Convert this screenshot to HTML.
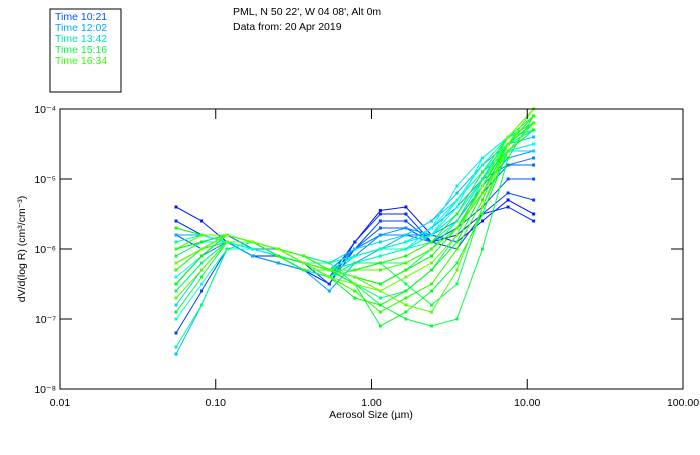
<!DOCTYPE html>
<html><head><meta charset="utf-8"><style>
body{margin:0;background:#fff;width:700px;height:450px;overflow:hidden;font-family:"Liberation Sans","DejaVu Sans",sans-serif}
svg text{font-family:"Liberation Sans","DejaVu Sans",sans-serif}
</style></head><body>
<svg id="chart" width="700" height="450" xmlns="http://www.w3.org/2000/svg">
<rect x="50" y="9" width="71" height="83" fill="#fff" stroke="#000" stroke-width="1"/>
<g font-size="10.5">
<text x="55" y="20" fill="#0055ff">Time 10:21</text>
<text x="55" y="31" fill="#00aaff">Time 12:02</text>
<text x="55" y="42" fill="#00e0c0">Time 13:42</text>
<text x="55" y="53" fill="#00ff40">Time 15:16</text>
<text x="55" y="64" fill="#33ff00">Time 16:34</text>
</g>
<text x="233" y="15" font-size="10.5">PML, N 50 22', W 04 08', Alt 0m</text>
<text x="233" y="30" font-size="10.5">Data from: 20 Apr 2019</text>
<g id="series"></g>
<rect x="60" y="109" width="623" height="280" fill="none" stroke="#000" stroke-width="1"/>
<g id="axes"></g>
<text x="371" y="418" font-size="10.5" text-anchor="middle">Aerosol Size (µm)</text>
<text transform="translate(25,249) rotate(-90)" font-size="10.5" text-anchor="middle">dV/d(log R) (cm³/cm⁻³)</text>
</svg>
<script>
const xTicks=[0.01,0.1,1,10,100];
const xTickLabels=["0.01","0.10","1.00","10.00","100.00"];
const yTicks=[-4,-5,-6,-7,-8];
const yTickLabels=["10⁻⁴","10⁻⁵","10⁻⁶","10⁻⁷","10⁻⁸"];
const sizesLog=[-1.255,-1.091,-0.927,-0.763,-0.599,-0.435,-0.271,-0.107,0.057,0.221,0.385,0.549,0.713,0.877,1.041];
const series=[
[-5.4,-5.6,-5.9,-6.1,-6.1,-6.3,-6.5,-5.9,-5.45,-5.4,-5.8,-5.9,-5.6,-5.3,-5.5],
[-5.6,-5.8,-5.9,-6.1,-6.2,-6.3,-6.4,-5.9,-5.5,-5.5,-5.9,-5.8,-5.5,-5.4,-5.6],
[-7.2,-6.6,-6.0,-6.0,-6.1,-6.2,-6.5,-6.0,-5.6,-5.6,-5.9,-6.0,-5.5,-5.2,-5.3],
[-5.8,-6.0,-5.9,-6.1,-6.2,-6.3,-6.4,-6.0,-5.7,-5.7,-5.9,-5.7,-5.4,-5.0,-5.0],
[-6.2,-6.0,-5.8,-6.0,-6.1,-6.2,-6.3,-6.0,-5.8,-5.8,-5.9,-5.7,-5.2,-4.8,-4.8],
[-6.5,-6.1,-5.9,-6.0,-6.0,-6.2,-6.3,-6.1,-5.8,-5.8,-5.8,-5.5,-5.0,-4.8,-4.7],
[-6.0,-5.9,-5.8,-6.0,-6.1,-6.2,-6.3,-6.0,-5.8,-5.7,-5.8,-5.6,-5.1,-4.7,-4.6],
[-5.8,-5.8,-5.9,-6.1,-6.2,-6.3,-6.6,-6.2,-6.0,-5.9,-5.7,-5.4,-5.0,-4.6,-4.5],
[-7.5,-6.8,-6.0,-6.0,-6.1,-6.2,-6.4,-6.1,-6.0,-5.8,-5.6,-5.2,-4.8,-4.5,-4.4],
[-6.8,-6.3,-5.9,-5.9,-6.0,-6.1,-6.2,-6.0,-5.9,-5.8,-5.6,-5.3,-4.9,-4.6,-4.6],
[-6.0,-5.9,-5.9,-6.0,-6.1,-6.2,-6.3,-6.1,-6.0,-5.9,-5.7,-5.1,-4.7,-4.4,-4.3],
[-6.4,-6.1,-5.8,-5.9,-6.1,-6.2,-6.2,-6.1,-6.0,-6.0,-5.8,-5.5,-5.0,-4.6,-4.5],
[-5.7,-5.8,-5.9,-6.0,-6.1,-6.3,-6.4,-6.2,-6.1,-6.0,-5.7,-5.3,-4.9,-4.5,-4.3],
[-7.0,-6.5,-6.0,-6.0,-6.1,-6.2,-6.3,-6.1,-6.0,-5.9,-5.8,-5.4,-4.7,-4.4,-4.3],
[-6.6,-6.2,-5.9,-6.0,-6.1,-6.3,-6.4,-6.2,-6.1,-6.0,-5.8,-5.3,-4.8,-4.4,-4.2],
[-6.3,-6.0,-5.8,-5.9,-6.0,-6.2,-6.2,-6.1,-6.0,-6.0,-5.9,-5.6,-5.0,-4.5,-4.3],
[-5.9,-5.8,-5.8,-5.9,-6.1,-6.3,-6.4,-6.3,-6.2,-6.2,-6.0,-5.7,-5.1,-4.5,-4.2],
[-7.4,-6.8,-6.0,-5.9,-6.0,-6.1,-6.2,-6.5,-6.7,-6.6,-6.3,-5.8,-5.0,-4.4,-4.1],
[-6.6,-6.2,-5.9,-5.9,-6.0,-6.1,-6.3,-6.4,-6.5,-6.3,-6.0,-5.6,-5.0,-4.4,-4.2],
[-6.1,-5.9,-5.8,-5.9,-6.0,-6.2,-6.3,-6.2,-6.2,-6.5,-6.8,-6.5,-5.4,-4.6,-4.3],
[-6.2,-6.0,-5.8,-5.9,-6.0,-6.2,-6.3,-6.5,-6.8,-7.0,-7.1,-7.0,-6.0,-4.7,-4.1],
[-6.9,-6.4,-5.9,-5.9,-6.0,-6.1,-6.3,-6.5,-7.1,-6.9,-6.6,-6.2,-5.5,-4.6,-4.3],
[-6.0,-5.9,-5.8,-5.9,-6.1,-6.2,-6.4,-6.7,-6.8,-6.6,-6.3,-5.9,-5.2,-4.5,-4.2],
[-6.5,-6.1,-5.8,-5.9,-6.0,-6.2,-6.3,-6.4,-6.5,-6.3,-6.1,-5.7,-5.1,-4.5,-4.1],
[-5.7,-5.8,-5.8,-5.9,-6.1,-6.3,-6.3,-6.3,-6.2,-6.1,-5.9,-5.5,-4.9,-4.4,-4.0],
[-6.3,-6.0,-5.9,-5.9,-6.0,-6.2,-6.4,-6.6,-6.9,-6.7,-6.5,-6.0,-5.3,-4.5,-4.1],
[-6.0,-5.8,-5.8,-5.9,-6.0,-6.1,-6.3,-6.3,-6.3,-6.2,-6.0,-5.7,-5.2,-4.6,-4.2],
[-6.7,-6.3,-5.9,-5.9,-6.0,-6.2,-6.3,-6.4,-6.6,-6.8,-6.9,-6.3,-5.4,-4.5,-4.0],
[-6.2,-6.0,-5.8,-5.9,-6.0,-6.2,-6.4,-6.5,-6.6,-6.4,-6.2,-5.8,-5.1,-4.4,-4.0]
];
const NS="http://www.w3.org/2000/svg";
const X0=60,X1=683,Y0=109,Y1=389;
function xScale(lx){return X0+(lx+2)/4*(X1-X0);}
function yScale(ly){return Y0+(-4-ly)/4*(Y1-Y0);}
function colorFor(i,n){const h=235-(i/(n-1))*140;return "hsl("+h+",100%,50%)";}
const g=document.getElementById('series');
series.forEach((s,i)=>{
  const col=colorFor(i,series.length);
  const pl=document.createElementNS(NS,'polyline');
  
  
  pl.setAttribute('points',s.map((v,j)=>xScale(sizesLog[j]).toFixed(1)+","+yScale(v).toFixed(1)).join(" "));
  pl.setAttribute('fill','none');pl.setAttribute('stroke',col);pl.setAttribute('stroke-width','1');
  g.appendChild(pl);
  s.forEach((v,j)=>{
    const r=document.createElementNS(NS,'rect');
    
    
    r.setAttribute('x',xScale(sizesLog[j])-1.5);r.setAttribute('y',yScale(v)-1.5);
    r.setAttribute('width',3);r.setAttribute('height',3);r.setAttribute('fill',col);
    g.appendChild(r);
  });
});
const ax=document.getElementById('axes');
function line(x1,y1,x2,y2){const l=document.createElementNS(NS,'line');
  
  
  l.setAttribute('x1',x1);l.setAttribute('y1',y1);l.setAttribute('x2',x2);l.setAttribute('y2',y2);l.setAttribute('stroke','#000');ax.appendChild(l);}
xTicks.forEach((t,i)=>{
  const x=xScale(Math.log10(t));
  line(x,Y1,x,Y1-10);line(x,Y0,x,Y0+10);
  const tx=document.createElementNS(NS,'text');
  
  
  tx.setAttribute('x',x);tx.setAttribute('y',406);tx.setAttribute('font-size','10.5');tx.setAttribute('text-anchor','middle');
  tx.textContent=xTickLabels[i];ax.appendChild(tx);
});
yTicks.forEach((t,i)=>{
  const y=yScale(t);
  line(X0,y,X0+12,y);line(X1,y,X1-12,y);
  const tx=document.createElementNS(NS,'text');
  
  
  tx.setAttribute('x',56);tx.setAttribute('y',y+4);tx.setAttribute('font-size','10.5');tx.setAttribute('text-anchor','end');
  tx.textContent=yTickLabels[i];ax.appendChild(tx);
});
</script>
</body></html>
